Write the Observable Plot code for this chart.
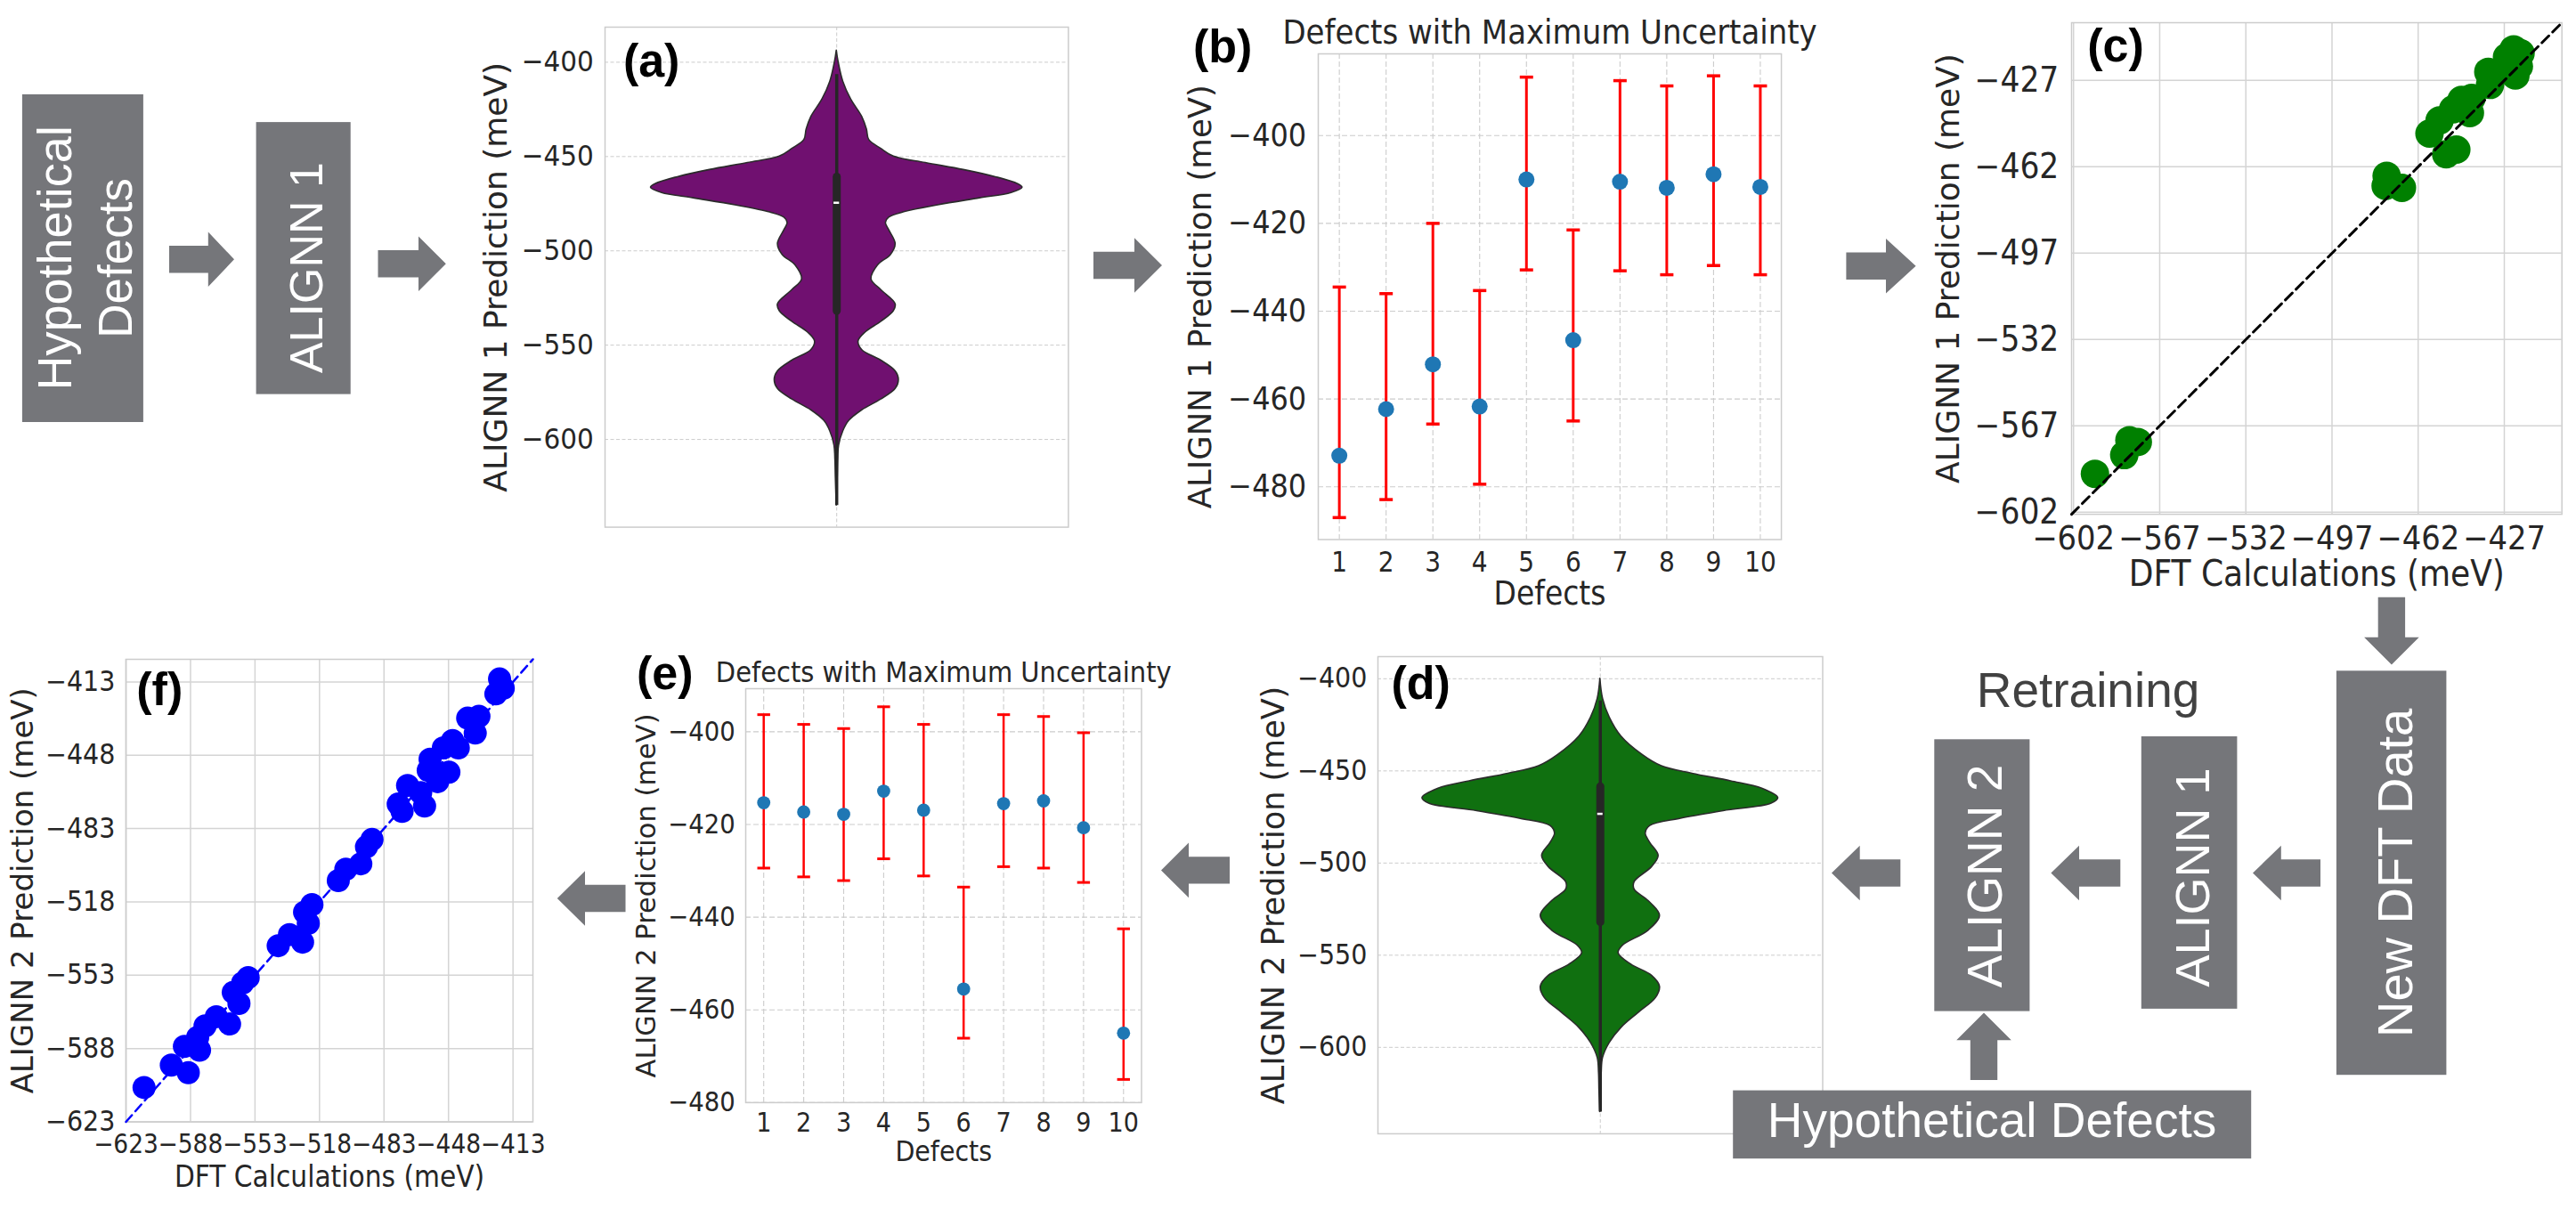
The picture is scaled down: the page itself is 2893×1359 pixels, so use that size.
<!DOCTYPE html>
<html>
<head>
<meta charset="utf-8">
<script src="https://cdn.jsdelivr.net/npm/d3@7"></script>
<script src="https://cdn.jsdelivr.net/npm/@observablehq/plot@0.6"></script>
<style>
html, body { margin: 0; padding: 0; background: #fff; overflow: hidden; }
#page { position: relative; width: 2893px; height: 1359px; background: #fff; overflow: hidden; }
</style>
</head>
<body>
<div id="page"></div>
<script>
// ---------------- DATA ----------------
// (a) ALIGNN 1 violin outline: prediction value (meV) and half-width (seaborn category units)
const aProfileValue = [-393.8, -400, -410.3, -419.7, -429, -435.6, -441.2, -445.9, -450, -453.4, -457.1, -460.9, -464.6, -466.5, -469.3, -472.1, -475.8, -479.6, -482.4, -485.2, -489, -496.4, -502.1, -507.7, -515.2, -520.8, -528.3, -532, -537.6, -543.3, -548, -552.6, -558.2, -563.9, -568.5, -573.2, -578.8, -584.5, -590.1, -595.7, -603.2, -610.7, -620, -635];
const aProfileWidth = [0, 0.004, 0.014, 0.031, 0.055, 0.065, 0.070, 0.096, 0.123, 0.192, 0.274, 0.343, 0.391, 0.401, 0.377, 0.309, 0.219, 0.144, 0.113, 0.106, 0.113, 0.127, 0.117, 0.089, 0.075, 0.096, 0.127, 0.123, 0.096, 0.062, 0.047, 0.055, 0.096, 0.127, 0.134, 0.127, 0.096, 0.055, 0.027, 0.014, 0.005, 0.003, 0.002, 0];
// inner box: [whisker low, q1, median, q3, whisker high]
const aBoxStats = [-635, -532, -474.5, -460.9, -406.5];

// (d) ALIGNN 2 violin outline
const dProfileValue = [-400, -410.9, -421, -431.2, -441.3, -447.4, -451.5, -455.6, -459.6, -464.7, -467.7, -471.8, -475.9, -479.9, -484, -489, -496.1, -502.2, -510.3, -514.4, -520.5, -528.6, -536.7, -544.8, -548.9, -555, -561.1, -567.1, -573.2, -581.3, -589.5, -597.6, -605.7, -613.8, -624, -635.1];
const dProfileWidth = [0, 0.006, 0.021, 0.047, 0.095, 0.138, 0.207, 0.294, 0.364, 0.400, 0.385, 0.277, 0.181, 0.112, 0.102, 0.112, 0.131, 0.116, 0.077, 0.077, 0.108, 0.134, 0.108, 0.051, 0.041, 0.069, 0.116, 0.134, 0.125, 0.086, 0.047, 0.021, 0.006, 0.003, 0.002, 0];
const dBoxStats = [-635.1, -532.3, -473.3, -458.6, -412];

const violinTicks = [-600, -550, -500, -450, -400];

// (b) ALIGNN 1: defects with maximum uncertainty
const defects = [1, 2, 3, 4, 5, 6, 7, 8, 9, 10];
const bPred = [-472.9, -462.3, -452.1, -461.7, -410.0, -446.6, -410.5, -411.9, -408.8, -411.7];
const bLow  = [-487.0, -482.9, -465.7, -479.4, -430.6, -465.0, -430.8, -431.7, -429.6, -431.7];
const bHigh = [-434.5, -436.0, -420.0, -435.3, -386.7, -421.5, -387.5, -388.7, -386.4, -388.7];
const bTicks = [-480, -460, -440, -420, -400];

// (e) ALIGNN 2: defects with maximum uncertainty
const ePred = [-415.3, -417.3, -417.8, -412.8, -416.9, -455.5, -415.5, -414.9, -420.7, -465.0];
const eLow  = [-429.4, -431.3, -432.1, -427.4, -431.1, -466.1, -429.1, -429.4, -432.5, -475.0];
const eHigh = [-396.3, -398.4, -399.3, -394.6, -398.4, -433.5, -396.3, -396.7, -400.2, -442.5];
const eTicks = [-480, -460, -440, -420, -400];

// (c) ALIGNN 1 vs DFT
const cDft  = [-593.3, -581.4, -575.9, -579.3, -474.8, -475.2, -468.6, -450.6, -446.5, -457.4, -453.3, -447.8, -444.4, -441.0, -440.3, -432.8, -433.5, -423.2, -421.1, -420.4, -425.9, -422.5];
const cPred = [-586.4, -578.8, -573.5, -572.8, -465.7, -469.7, -470.5, -456.9, -455.0, -448.5, -443.2, -438.7, -434.9, -440.2, -434.1, -428.8, -423.5, -414.4, -421.3, -416.0, -417.5, -425.0];
const cTicks = [-602, -567, -532, -497, -462, -427];
const cDomain = [-602.8, -403.6];

// (f) ALIGNN 2 vs DFT
const fDft  = [-613.2, -598.4, -589.2, -591.3, -583.1, -584.1, -580.1, -574.0, -566.8, -564.8, -561.7, -559.7, -556.7, -540.4, -534.3, -527.2, -526.1, -522.1, -524.1, -507.8, -503.7, -495.6, -492.5, -489.5, -473.2, -470.2, -475.3, -461.0, -463.1, -459.0, -458.0, -453.9, -450.8, -447.8, -445.8, -442.7, -437.6, -433.5, -431.5, -422.3, -420.3, -418.3];
const fPred = [-606.6, -595.9, -599.5, -587.0, -588.8, -582.6, -577.2, -572.8, -576.3, -561.2, -566.5, -556.7, -554.1, -538.9, -533.6, -537.2, -522.9, -519.3, -528.2, -507.8, -502.4, -499.8, -491.7, -488.2, -474.8, -462.4, -471.3, -472.2, -465.9, -455.2, -449.9, -460.6, -444.5, -456.1, -441.0, -444.5, -430.3, -437.4, -429.4, -418.7, -411.6, -416.0];
const fTicks = [-623, -588, -553, -518, -483, -448, -413];
const fDomain = [-623, -402.2];

// ---------------- HELPERS ----------------
const page = document.getElementById("page");
const FONT = "'DejaVu Sans', sans-serif";
const TAGFONT = "'Liberation Sans', Arial, sans-serif";
const INK = "#262626";
const GRID = "#cccccc";

// The source panels were squeezed horizontally (~0.9); use the condensed DejaVu face when present.
const condInfo = (() => {
  const ctx = document.createElement("canvas").getContext("2d");
  const s = "\u2212400 Defects Maximum 567";
  ctx.font = "72px monospace"; const mono = ctx.measureText(s).width;
  ctx.font = "72px 'DejaVu Sans Condensed', monospace"; const cond = ctx.measureText(s).width;
  ctx.font = "72px 'DejaVu Sans', monospace"; const reg = ctx.measureText(s).width;
  const ok = Math.abs(cond - mono) > 0.5 && Math.abs(cond - reg) > 0.5;
  return {ok, ratio: ok ? cond / reg : 1};
})();
const HFONT = condInfo.ok ? "'DejaVu Sans Condensed', 'DejaVu Sans', sans-serif" : FONT;
const S = condInfo.ok ? Math.max(1, Math.min(1.12, 1 / condInfo.ratio)) : 1;

function dims(f, m) {
  return {
    width: f.r - f.l + m.l + m.r,
    height: f.b - f.t + m.t + m.b,
    marginLeft: m.l, marginTop: m.t, marginRight: m.r, marginBottom: m.b
  };
}
function mount(svg, f, m) {
  svg.style.position = "absolute";
  svg.style.left = (f.l - m.l) + "px";
  svg.style.top = (f.t - m.t) + "px";
  page.appendChild(svg);
}
const baseStyle = {fontFamily: HFONT, color: INK, background: "transparent", overflow: "visible"};

function yLabel(text, dx, size) {
  return Plot.text([text], {text: d => d, frameAnchor: "left", dx, rotate: -90,
    textAnchor: "middle", lineAnchor: "middle", fontSize: size, fill: INK, fontFamily: FONT});
}
function xLabel(text, dy, size) {
  return Plot.text([text], {text: d => d, frameAnchor: "bottom", dy,
    textAnchor: "middle", lineAnchor: "middle", fontSize: size * S, fill: INK, fontFamily: HFONT});
}
function tag(text, dx, dy, size) {
  return Plot.text([text], {text: d => d, frameAnchor: "top-left", dx, dy,
    textAnchor: "start", lineAnchor: "bottom", fontSize: size, fontWeight: "bold",
    fill: "#000", fontFamily: TAGFONT});
}
function title(text, dy, size) {
  return Plot.text([text], {text: d => d, frameAnchor: "top", dy,
    textAnchor: "middle", lineAnchor: "bottom", fontSize: size * S, fill: INK, fontFamily: HFONT});
}
function axY(ticks, pad, size) {
  return Plot.axisY(ticks, {tickSize: 0, tickPadding: pad, fontSize: size * S, fill: INK, label: null, fontFamily: HFONT});
}
function axX(ticks, pad, size) {
  return Plot.axisX(ticks, {tickSize: 0, tickPadding: pad, fontSize: size * S, fill: INK, label: null, fontFamily: HFONT});
}

// horizontal-line symbol for error bar caps
const hline = {draw(ctx, size) { const r = Math.sqrt(size / Math.PI); ctx.moveTo(-r, 0); ctx.lineTo(r, 0); }};

// ---------------- VIOLIN PANELS ----------------
function violin(o) {
  const prof = o.values.map((v, i) => ({v, w: o.widths[i]}));
  const [lo, q1, med, q3, hi] = o.stats;
  const box = [{lo, q1, med, q3, hi}];
  const svg = Plot.plot({
    ...dims(o.f, o.m),
    style: baseStyle,
    x: {domain: [-0.5, 0.5], axis: null},
    y: {domain: o.yDomain, axis: null},
    marks: [
      Plot.gridY(violinTicks, {stroke: GRID, strokeOpacity: 1, strokeWidth: 1, strokeDasharray: "4,2.5"}),
      Plot.gridX([0], {stroke: GRID, strokeOpacity: 1, strokeWidth: 1, strokeDasharray: "4,2.5"}),
      Plot.frame({stroke: GRID, strokeWidth: 1.5}),
      Plot.areaX(prof, {y: "v", x1: d => -d.w, x2: "w", curve: "catmull-rom",
        fill: o.fill, stroke: "#2b2b2b", strokeWidth: 1.6}),
      Plot.ruleX(box, {x: () => 0, y1: "lo", y2: "hi", stroke: "#262626", strokeWidth: 3.5}),
      Plot.ruleX(box, {x: () => 0, y1: "q1", y2: "q3", stroke: "#262626", strokeWidth: 9, strokeLinecap: "round"}),
      Plot.ruleY(box, {y: "med", x1: -0.006, x2: 0.006, stroke: "#ffffff", strokeWidth: 2.5}),
      axY(violinTicks, o.tickPad, o.tickFont),
      yLabel(o.ylabel, o.ylabelDx, o.ylabelSize),
      tag(o.tag, o.tagDx, o.tagDy, 52)
    ]
  });
  mount(svg, o.f, o.m);
}

violin({
  f: {l: 678.6, t: 30.4, r: 1199, b: 592}, m: {l: 160, t: 30, r: 10, b: 25},
  values: aProfileValue, widths: aProfileWidth, stats: aBoxStats,
  yDomain: [-646.5, -381.4], fill: "#701070", tickPad: 12.8, tickFont: 29.5,
  ylabel: "ALIGNN 1 Prediction (meV)", ylabelDx: -121.6, ylabelSize: 36,
  tag: "(a)", tagDx: 20.4, tagDy: 55.6
});
violin({
  f: {l: 1547, t: 736.6, r: 2046.5, b: 1272.5}, m: {l: 140, t: 30, r: 10, b: 20},
  values: dProfileValue, widths: dProfileWidth, stats: dBoxStats,
  yDomain: [-646.9, -388.0], fill: "#107010", tickPad: 12.2, tickFont: 28.5,
  ylabel: "ALIGNN 2 Prediction (meV)", ylabelDx: -117.1, ylabelSize: 35,
  tag: "(d)", tagDx: 15, tagDy: 47.4
});

// ---------------- ERROR BAR PANELS ----------------
function errPanel(o) {
  const rows = defects.map((d, i) => ({d, p: o.pred[i], lo: o.low[i], hi: o.high[i]}));
  const svg = Plot.plot({
    ...dims(o.f, o.m),
    style: baseStyle,
    x: {domain: [0.55, 10.45], axis: null},
    y: {domain: o.yDomain, axis: null},
    marks: [
      Plot.gridY(o.ticks, {stroke: GRID, strokeOpacity: 1, strokeWidth: 1.1, strokeDasharray: "6,3"}),
      Plot.gridX(defects, {stroke: GRID, strokeOpacity: 1, strokeWidth: 1.1, strokeDasharray: "6,3"}),
      Plot.frame({stroke: GRID, strokeWidth: 1.5}),
      Plot.ruleX(rows, {x: "d", y1: "lo", y2: "hi", stroke: "#ff0000", strokeWidth: o.ew}),
      Plot.dot(rows, {x: "d", y: "lo", symbol: hline, r: o.capR, stroke: "#ff0000", strokeWidth: o.ew + 0.5}),
      Plot.dot(rows, {x: "d", y: "hi", symbol: hline, r: o.capR, stroke: "#ff0000", strokeWidth: o.ew + 0.5}),
      Plot.dot(rows, {x: "d", y: "p", r: o.r, fill: "#1f77b4", stroke: null}),
      axY(o.ticks, o.yPad, o.yFont),
      axX(defects, o.xPad, o.xFont),
      title("Defects with Maximum Uncertainty", o.titleDy, o.titleSize),
      xLabel("Defects", o.xlabelDy, o.xlabelSize),
      yLabel(o.ylabel, o.ylabelDx, o.ylabelSize),
      tag(o.tag, o.tagDx, o.tagDy, 52)
    ]
  });
  mount(svg, o.f, o.m);
}

errPanel({
  f: {l: 1480.3, t: 60.3, r: 2000.4, b: 605.8}, m: {l: 150, t: 60, r: 10, b: 80},
  pred: bPred, low: bLow, high: bHigh, ticks: bTicks, yDomain: [-492.0, -381.4],
  r: 9, capR: 7.5, ew: 3, yPad: 13.3, yFont: 32, xPad: 13.5, xFont: 28,
  titleDy: -11.3, titleSize: 34, xlabelDy: 61.2, xlabelSize: 33,
  ylabel: "ALIGNN 1 Prediction (meV)", ylabelDx: -131.8, ylabelSize: 35.5,
  tag: "(b)", tagDx: -140.6, tagDy: 9.2
});
errPanel({
  f: {l: 836.5, t: 772.7, r: 1281, b: 1237.6}, m: {l: 140, t: 60, r: 10, b: 70},
  pred: ePred, low: eLow, high: eHigh, ticks: eTicks, yDomain: [-480, -390.7],
  r: 7.4, capR: 7.2, ew: 2.5, yPad: 11.7, yFont: 27.5, xPad: 11.2, xFont: 27,
  titleDy: -7.7, titleSize: 29, xlabelDy: 55, xlabelSize: 28.5,
  ylabel: "ALIGNN 2 Prediction (meV)", ylabelDx: -111.5, ylabelSize: 30.5,
  tag: "(e)", tagDx: -122.5, tagDy: 0.3
});

// ---------------- PARITY PANELS ----------------
function parity(o) {
  const pts = o.dft.map((x, i) => ({x, y: o.pred[i]}));
  const diag = o.domain.map(v => ({x: v, y: v}));
  const svg = Plot.plot({
    ...dims(o.f, o.m),
    style: baseStyle,
    x: {domain: o.domain, axis: null},
    y: {domain: o.domain, axis: null},
    marks: [
      Plot.gridX(o.ticks, {stroke: "#d4d4d4", strokeOpacity: 1, strokeWidth: 1.5}),
      Plot.gridY(o.ticks, {stroke: "#d4d4d4", strokeOpacity: 1, strokeWidth: 1.5}),
      Plot.frame({stroke: GRID, strokeWidth: 1.5}),
      Plot.dot(pts, {x: "x", y: "y", r: o.r, fill: o.color, stroke: null}),
      Plot.line(diag, {x: "x", y: "y", stroke: o.lineColor, strokeWidth: o.lw, strokeDasharray: o.dash}),
      axY(o.ticks, o.yPad, o.font),
      axX(o.ticks, o.xPad, o.xFont || o.font),
      xLabel("DFT Calculations (meV)", o.xlabelDy, o.xlabelSize),
      yLabel(o.ylabel, o.ylabelDx, o.ylabelSize),
      tag(o.tag, o.tagDx, o.tagDy, 52)
    ]
  });
  mount(svg, o.f, o.m);
}

parity({
  f: {l: 2325.7, t: 25.3, r: 2876.4, b: 577.4}, m: {l: 160, t: 25, r: 16, b: 90},
  dft: cDft, pred: cPred, ticks: cTicks, domain: cDomain,
  r: 16, color: "#008000", lineColor: "#000000", lw: 3, dash: "11,6",
  font: 34.5, xFont: 33.8, yPad: 14.2, xPad: 12.5,
  xlabelDy: 67.6, xlabelSize: 36,
  ylabel: "ALIGNN 1 Prediction (meV)", ylabelDx: -137.7, ylabelSize: 36,
  tag: "(c)", tagDx: 17.8, tagDy: 44
});
parity({
  f: {l: 140.6, t: 740.4, r: 597.6, b: 1259.9}, m: {l: 140, t: 30, r: 20, b: 90},
  dft: fDft, pred: fPred, ticks: fTicks, domain: fDomain,
  r: 13, color: "#0000ff", lineColor: "#0000ff", lw: 2.5, dash: "10,6",
  font: 28.5, xFont: 26.5, yPad: 12.2, xPad: 14.5,
  xlabelDy: 62, xlabelSize: 29.7,
  ylabel: "ALIGNN 2 Prediction (meV)", ylabelDx: -115.3, ylabelSize: 34,
  tag: "(f)", tagDx: 11.8, tagDy: 51.6
});

// ---------------- WORKFLOW DIAGRAM (boxes, arrows, captions) ----------------
const GRAY = "#75767a";
const FLOWFONT = "'Liberation Sans', Arial, Helvetica, sans-serif";
const flowBoxes = [
  [24.9, 105.9, 136, 368.1],
  [287.6, 137.1, 106.1, 305.5],
  [2623.9, 753.3, 123.5, 453.9],
  [2404.8, 827, 107.6, 305.9],
  [2172.3, 830.3, 107.1, 305.3],
  [1946.2, 1224.6, 582, 76.6]
];
const flowTexts = [
  {x: 79.9, y: 289.9, t: "Hypothetical", s: 54, rot: -90, fill: "#fff"},
  {x: 147.6, y: 289.9, t: "Defects", s: 53, rot: -90, fill: "#fff"},
  {x: 361.5, y: 300.6, t: "ALIGNN 1", s: 52, rot: -90, fill: "#fff"},
  {x: 2709.3, y: 980.4, t: "New DFT Data", s: 56, rot: -90, fill: "#fff"},
  {x: 2481.4, y: 985.5, t: "ALIGNN 1", s: 54, rot: -90, fill: "#fff"},
  {x: 2248.3, y: 984, t: "ALIGNN 2", s: 55, rot: -90, fill: "#fff"},
  {x: 2237, y: 1277, t: "Hypothetical Defects", s: 55, rot: 0, fill: "#fff"},
  {x: 2345, y: 794, t: "Retraining", s: 55, rot: 0, fill: "#414141"}
];
// horizontal arrows: [shaft start, head base, tip, centre y]
const hArrows = [
  [190, 233.8, 263, 291.3],
  [424.5, 470, 500.8, 296.3],
  [1228, 1274, 1305, 298],
  [2073.4, 2118, 2151.6, 298.7],
  [2606, 2561.8, 2530, 980.5],
  [2381.3, 2335, 2303.4, 980.5],
  [2134.3, 2088.7, 2057, 980.5],
  [1381, 1335, 1304, 977.4],
  [702.5, 657, 625.8, 1009]
];
// vertical arrows: [shaft start, head base, tip, centre x]
const vArrows = [
  [670.7, 715.7, 746.4, 2685.9],
  [1213.1, 1168.2, 1137.5, 2228]
];
const SH = 15.2, HH = 30.8;

const flow = d3.create("svg")
  .attr("width", 2893).attr("height", 1359)
  .style("position", "absolute").style("left", "0px").style("top", "0px")
  .style("pointer-events", "none");
flow.selectAll("rect.box").data(flowBoxes).join("rect")
  .attr("x", d => d[0]).attr("y", d => d[1]).attr("width", d => d[2]).attr("height", d => d[3])
  .attr("fill", GRAY);
flow.selectAll("polygon.h").data(hArrows).join("polygon")
  .attr("points", ([a, b, t, c]) => [[a, c - SH], [b, c - SH], [b, c - HH], [t, c], [b, c + HH], [b, c + SH], [a, c + SH]].join(" "))
  .attr("fill", GRAY);
flow.selectAll("polygon.v").data(vArrows).join("polygon")
  .attr("points", ([a, b, t, c]) => [[c - SH, a], [c - SH, b], [c - HH, b], [c, t], [c + HH, b], [c + SH, b], [c + SH, a]].join(" "))
  .attr("fill", GRAY);
flow.selectAll("text").data(flowTexts).join("text")
  .attr("transform", d => `translate(${d.x},${d.y}) rotate(${d.rot})`)
  .attr("text-anchor", "middle")
  .attr("font-family", FLOWFONT)
  .attr("font-size", d => d.s)
  .attr("fill", d => d.fill)
  .text(d => d.t);
page.appendChild(flow.node());
</script>
</body>
</html>
